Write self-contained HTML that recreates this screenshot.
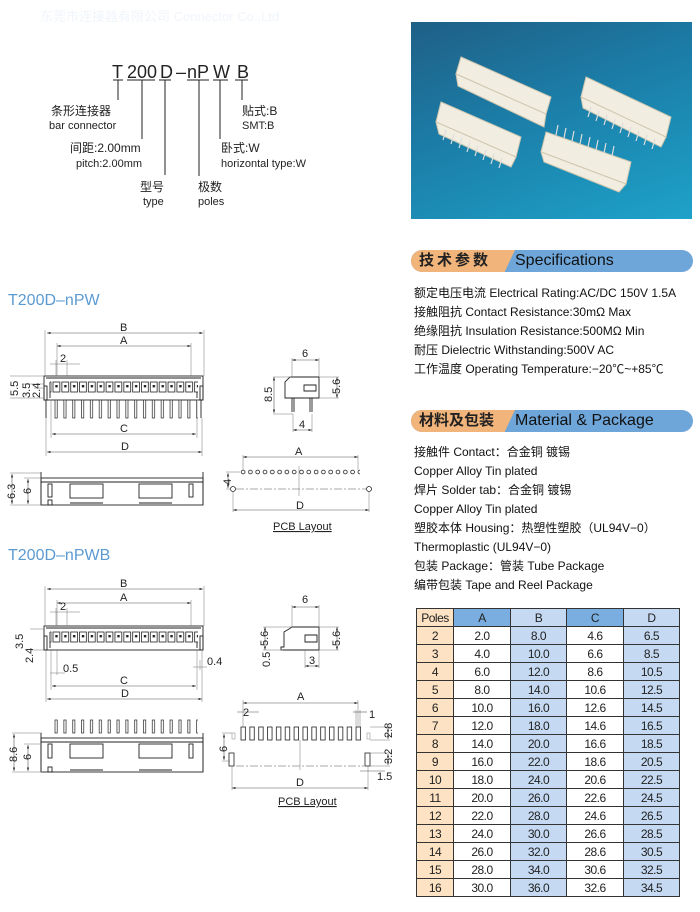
<!DOCTYPE html>
<html><head><meta charset="utf-8">
<style>
*{margin:0;padding:0;box-sizing:border-box}
body{width:700px;height:912px;background:#fff;position:relative;overflow:hidden;font-family:"Liberation Sans","Noto Sans CJK SC",sans-serif;color:#222}
.a{position:absolute;white-space:nowrap}
.hdr{position:absolute;left:411px;width:282px;height:22px;border-radius:11px;overflow:hidden;background:#6fa6d9}
.hdr .o{position:absolute;left:0;top:0;height:22px;width:104px;background:#f1b47a;clip-path:polygon(0 0,100% 0,90% 100%,0 100%)}
.hdr .cn{position:absolute;left:8px;top:0;font-size:15px;line-height:22px;font-weight:bold;color:#222}
.hdr .en{position:absolute;left:104px;top:0;font-size:16px;line-height:22px;color:#111}
.sp{position:absolute;left:414px;font-size:12px;line-height:19px;color:#111}
table{position:absolute;left:416px;top:608px;border-collapse:collapse;font-size:12px;font-family:"Liberation Sans",sans-serif;letter-spacing:-0.5px}
td{border:1px solid #333;height:18px;text-align:center;padding:0;color:#222}
td.p{background:#fde3c3;width:37px}
td.w{background:#fff;width:57px}
td.b{background:#c5daf2;width:56px}
tr.h td.b2{background:#7aaee0}
</style></head><body>
<div class="a" style="left:40px;top:6px;font-size:13px;color:#f0f5fb">东莞市连接器有限公司 Connector Co.,Ltd</div>

<div class="a" style="left:411px;top:22px;width:281px;height:197px;background:linear-gradient(160deg,#1f5f86 0%,#1b7ea8 45%,#1ea2c9 100%)"></div>
<svg class="a" style="left:411px;top:22px" width="281" height="197">
<g fill="#f1ede0" stroke="#cfc7b0" stroke-width="1">
<polygon points="50,35 140,75 135,92 45,52"/>
<polygon points="45,52 135,92 133,105 47,64"/>
<polygon points="175,55 260,95 255,115 170,75"/>
<polygon points="170,75 255,115 250,125 172,86"/>
<polygon points="30,80 110,115 105,135 25,100"/>
<polygon points="25,100 105,135 100,145 28,112"/>
<polygon points="135,110 220,140 215,162 130,130"/>
<polygon points="130,130 215,162 208,170 133,140"/>
</g>
<g stroke="#ddd" stroke-width="1.2">
<path d="M180,85 l-3,10 M188,89 l-3,10 M196,93 l-3,10 M204,97 l-3,10 M212,101 l-3,10 M220,105 l-3,10 M228,109 l-3,10 M236,113 l-3,10 M244,117 l-3,10"/>
<path d="M35,108 l-3,10 M43,112 l-3,10 M51,116 l-3,10 M59,120 l-3,10 M67,124 l-3,10 M75,128 l-3,10 M83,132 l-3,10 M91,136 l-3,10"/>
<path d="M145,113 l2,-10 M153,116 l2,-10 M161,119 l2,-10 M169,122 l2,-10 M177,125 l2,-10 M185,128 l2,-10 M193,131 l2,-10 M201,134 l2,-10"/>
</g>
</svg>

<div class="hdr" style="top:250px"><div class="o"></div><div class="cn" style="letter-spacing:3px">技术参数</div><div class="en">Specifications</div></div>
<div class="sp" style="top:284px">额定电压电流 Electrical Rating:AC/DC 150V 1.5A<br>接触阻抗 Contact Resistance:30mΩ Max<br>绝缘阻抗 Insulation Resistance:500MΩ Min<br>耐压 Dielectric Withstanding:500V AC<br>工作温度 Operating Temperature:−20℃~+85℃</div>
<div class="hdr" style="top:410px"><div class="o"></div><div class="cn">材料及包装</div><div class="en">Material &amp; Package</div></div>
<div class="sp" style="top:443px">接触件 Contact：合金铜 镀锡<br>Copper Alloy Tin plated<br>焊片 Solder tab：合金铜 镀锡<br>Copper Alloy Tin plated<br>塑胶本体 Housing：热塑性塑胶（UL94V−0）<br>Thermoplastic (UL94V−0)<br>包装 Package：管装 Tube Package<br>编带包装 Tape and Reel Package</div>

<table>
<tr class="h"><td class="p">Poles</td><td class="b b2">A</td><td class="b">B</td><td class="b b2">C</td><td class="b">D</td></tr>
<tr><td class="p">2</td><td class="w">2.0</td><td class="b">8.0</td><td class="w">4.6</td><td class="b">6.5</td></tr>
<tr><td class="p">3</td><td class="w">4.0</td><td class="b">10.0</td><td class="w">6.6</td><td class="b">8.5</td></tr>
<tr><td class="p">4</td><td class="w">6.0</td><td class="b">12.0</td><td class="w">8.6</td><td class="b">10.5</td></tr>
<tr><td class="p">5</td><td class="w">8.0</td><td class="b">14.0</td><td class="w">10.6</td><td class="b">12.5</td></tr>
<tr><td class="p">6</td><td class="w">10.0</td><td class="b">16.0</td><td class="w">12.6</td><td class="b">14.5</td></tr>
<tr><td class="p">7</td><td class="w">12.0</td><td class="b">18.0</td><td class="w">14.6</td><td class="b">16.5</td></tr>
<tr><td class="p">8</td><td class="w">14.0</td><td class="b">20.0</td><td class="w">16.6</td><td class="b">18.5</td></tr>
<tr><td class="p">9</td><td class="w">16.0</td><td class="b">22.0</td><td class="w">18.6</td><td class="b">20.5</td></tr>
<tr><td class="p">10</td><td class="w">18.0</td><td class="b">24.0</td><td class="w">20.6</td><td class="b">22.5</td></tr>
<tr><td class="p">11</td><td class="w">20.0</td><td class="b">26.0</td><td class="w">22.6</td><td class="b">24.5</td></tr>
<tr><td class="p">12</td><td class="w">22.0</td><td class="b">28.0</td><td class="w">24.6</td><td class="b">26.5</td></tr>
<tr><td class="p">13</td><td class="w">24.0</td><td class="b">30.0</td><td class="w">26.6</td><td class="b">28.5</td></tr>
<tr><td class="p">14</td><td class="w">26.0</td><td class="b">32.0</td><td class="w">28.6</td><td class="b">30.5</td></tr>
<tr><td class="p">15</td><td class="w">28.0</td><td class="b">34.0</td><td class="w">30.6</td><td class="b">32.5</td></tr>
<tr><td class="p">16</td><td class="w">30.0</td><td class="b">36.0</td><td class="w">32.6</td><td class="b">34.5</td></tr>
</table>

<svg class="a" style="left:0;top:0" width="405" height="912" font-family="Liberation Sans, Noto Sans CJK SC, sans-serif">
<defs>
<pattern id="cav" patternUnits="userSpaceOnUse" x="52" y="0" width="8.85" height="912"><rect x="1" y="382" width="6.8" height="10" fill="#fff" stroke="#222" stroke-width=".8"/><rect x="3.3" y="385" width="2.4" height="2.4" fill="#222"/></pattern>
<pattern id="cav2" patternUnits="userSpaceOnUse" x="52" y="0" width="8.85" height="912"><rect x="1" y="632" width="6.8" height="10" fill="#fff" stroke="#222" stroke-width=".8"/><rect x="3.3" y="635" width="2.4" height="2.4" fill="#222"/></pattern>
<pattern id="pin" patternUnits="userSpaceOnUse" x="52" y="0" width="8.85" height="912"><rect x="3" y="400" width="2.2" height="18" fill="#fff" stroke="#222" stroke-width=".7"/></pattern>
<pattern id="pin2" patternUnits="userSpaceOnUse" x="52" y="0" width="8.85" height="912"><rect x="3" y="720" width="2.2" height="13" fill="#fff" stroke="#222" stroke-width=".7"/></pattern>
<pattern id="hole" patternUnits="userSpaceOnUse" x="239.5" y="0" width="7.3" height="912"><circle cx="3.6" cy="472" r="1.9" fill="#fff" stroke="#222" stroke-width=".8"/></pattern>
<pattern id="pad" patternUnits="userSpaceOnUse" x="239.5" y="0" width="8.85" height="912"><rect x="1.5" y="727" width="4.5" height="13" fill="#fff" stroke="#222" stroke-width=".8"/></pattern>
<marker id="ar" markerWidth="6" markerHeight="4" refX="6" refY="2" orient="auto-start-reverse"><path d="M0,0 L6,2 L0,4z" fill="#333"/></marker>
</defs>

<g font-size="18" fill="#222">
<text x="112" y="78">T</text><text x="127" y="78">200</text><text x="160" y="78">D</text><text x="176" y="78">–</text><text x="187" y="78">nP</text><text x="213" y="78">W</text><text x="237" y="78">B</text>
</g>
<g stroke="#222" stroke-width="1" fill="none">
<path d="M113,80h10 M127,80h28 M159,80h12 M187,80h22 M213,80h15 M235,80h13"/>
<path d="M118,80v20 M142,80v59 M165,80v95 M199,80v96 M220,80v59 M242,80v20"/>
</g>
<g font-size="12" fill="#222">
<text x="51" y="115">条形连接器</text><text x="49" y="129" font-size="11">bar connector</text>
<text x="70" y="152">间距:2.00mm</text><text x="76" y="167" font-size="11">pitch:2.00mm</text>
<text x="140" y="191">型号</text><text x="143" y="205" font-size="11">type</text>
<text x="198" y="191">极数</text><text x="198" y="205" font-size="11">poles</text>
<text x="221" y="152">卧式:W</text><text x="221" y="167" font-size="11">horizontal type:W</text>
<text x="242" y="115">贴式:B</text><text x="242" y="129" font-size="11">SMT:B</text>
</g>

<g font-size="16" fill="#5b9bd2"><text x="8" y="305">T200D–nPW</text><text x="8" y="560">T200D–nPWB</text></g>

<g stroke="#222" fill="none" stroke-width=".9">
<rect x="44" y="376" width="159" height="24" fill="#fff"/>
<path d="M46,378h155 M50,382v16 M197,382v16"/>
<rect x="44" y="386" width="3" height="14"/><rect x="200" y="386" width="3" height="14"/>
<path d="M46,400v18 M201,400v18"/>
</g>
<rect x="50" y="380" width="148" height="20" fill="url(#cav)"/>
<rect x="50" y="400" width="148" height="20" fill="url(#pin)"/>
<g stroke="#555" stroke-width=".6" fill="none" marker-start="url(#ar)" marker-end="url(#ar)">
<path d="M47,333H203"/><path d="M57,346H191"/><path d="M52,434H196"/><path d="M47,452H202"/>
</g>
<g stroke="#777" stroke-width=".5" fill="none">
<path d="M45,330v46 M204,330v46 M57,343v33 M191,343v33 M51,400v38 M197,400v38 M46,418v38 M202,418v38 M50,364h30 M56,360v16 M67,360v16 M10,376h34 M22,384h22 M34,388h10 M10,398h34"/>
</g>
<g font-size="11" fill="#222">
<text x="120" y="331">B</text><text x="120" y="344">A</text><text x="60" y="362">2</text><text x="120" y="432">C</text><text x="121" y="450">D</text>
<text transform="translate(18,396) rotate(-90)">5.5</text><text transform="translate(30,398) rotate(-90)">3.5</text><text transform="translate(40,398) rotate(-90)">2.4</text>
</g>
<g stroke="#222" fill="#fff" stroke-width=".9">
<path d="M290,377h29v21h-34v-16l5,-5z"/><path d="M304,385h12v6h-12z"/>
<path d="M292,398v14 M294,398v14 M310,398v14 M312,398v14" fill="none"/>
</g>
<g stroke="#777" stroke-width=".5" fill="none"><path d="M292,358v19 M319,358v19 M273,377h18 M273,414h20 M319,377h20 M319,398h20 M293,414v18 M312,414v18"/></g>
<g stroke="#555" stroke-width=".6" marker-start="url(#ar)" marker-end="url(#ar)"><path d="M292,360H319"/><path d="M274,377V413"/><path d="M337,377V398"/><path d="M293,430H312"/></g>
<g font-size="11" fill="#222"><text x="302" y="357">6</text><text transform="translate(272,402) rotate(-90)">8.5</text><text transform="translate(340,394) rotate(-90)">5.6</text><text x="299" y="428">4</text></g>
<g stroke="#222" fill="none" stroke-width=".9">
<rect x="41" y="478" width="162" height="27" fill="#fff"/><path d="M41,472v33 M203,472v33 M41,482h162"/>
<rect x="48" y="484" width="4" height="13"/><rect x="189" y="484" width="4" height="13"/>
<rect x="70" y="484" width="33" height="14"/><rect x="139" y="484" width="33" height="14"/>
<path d="M70,503h33 M139,503h33"/><rect x="48" y="500" width="4" height="5"/>
</g>
<g stroke="#777" stroke-width=".5" fill="none"><path d="M10,473h31 M24,478h17 M10,505h31"/></g>
<g stroke="#555" stroke-width=".6" marker-start="url(#ar)" marker-end="url(#ar)"><path d="M12,474V504"/><path d="M28,479V504"/></g>
<g font-size="11" fill="#222"><text transform="translate(15,499) rotate(-90)">6.3</text><text transform="translate(31,494) rotate(-90)">6</text></g>
<rect x="238" y="468" width="122" height="8" fill="url(#hole)"/>
<circle cx="233" cy="489" r="2.5" fill="#fff" stroke="#222" stroke-width=".8"/><circle cx="369" cy="489" r="2.5" fill="#fff" stroke="#222" stroke-width=".8"/>
<path d="M236,489H366" stroke="#555" stroke-width=".5" stroke-dasharray="8,2,2,2"/>
<g stroke="#777" stroke-width=".5" fill="none"><path d="M243,455v15 M358,455v15 M233,492v20 M369,492v20 M226,472h14 M226,489h5 M299,466v30"/></g>
<g stroke="#555" stroke-width=".6" marker-start="url(#ar)" marker-end="url(#ar)"><path d="M243,457H358"/><path d="M233,510H369"/><path d="M228,473V488"/></g>
<g font-size="11" fill="#222"><text x="295" y="455">A</text><text x="296" y="509">D</text><text transform="translate(231,485) rotate(-90)">4</text><text x="273" y="530" text-decoration="underline">PCB Layout</text></g>

<g stroke="#222" fill="none" stroke-width=".9">
<rect x="44" y="626" width="159" height="24" fill="#fff"/>
<path d="M46,628h155 M50,632v16 M197,632v16"/>
<rect x="44" y="636" width="3" height="14"/><rect x="200" y="636" width="3" height="14"/>
</g>
<rect x="50" y="630" width="148" height="20" fill="url(#cav2)"/>
<g stroke="#555" stroke-width=".6" fill="none" marker-start="url(#ar)" marker-end="url(#ar)">
<path d="M47,589H203"/><path d="M57,603H191"/><path d="M52,686H196"/><path d="M47,699H202"/>
</g>
<g stroke="#777" stroke-width=".5" fill="none">
<path d="M45,586v40 M204,586v40 M57,600v26 M191,600v26 M51,650v40 M197,650v40 M46,650v52 M202,650v52 M50,612h30 M56,608v18 M67,608v18 M30,629h14 M30,650h14 M50,673h15 M57,650v25 M193,667h14 M200,660v10"/>
</g>
<g font-size="11" fill="#222">
<text x="120" y="587">B</text><text x="120" y="601">A</text><text x="60" y="610">2</text><text x="120" y="684">C</text><text x="121" y="697">D</text>
<text x="63" y="672">0.5</text><text x="207" y="665">0.4</text>
<text transform="translate(23,649) rotate(-90)">3.5</text><text transform="translate(33,663) rotate(-90)">2.4</text>
</g>
<g stroke="#222" fill="#fff" stroke-width=".9"><path d="M292,627h27v23h-38v-3h3v-15l5,-3z"/><path d="M305,635h12v7h-12z"/></g>
<g stroke="#777" stroke-width=".5" fill="none"><path d="M292,605v22 M319,605v22 M263,627h29 M263,650h20 M319,627h20 M319,650h20 M305,650v18 M319,650v18"/></g>
<g stroke="#555" stroke-width=".6" marker-start="url(#ar)" marker-end="url(#ar)"><path d="M292,607H319"/><path d="M265,627V650"/><path d="M337,627V650"/><path d="M305,666H319"/></g>
<g font-size="11" fill="#222"><text x="302" y="603">6</text><text transform="translate(268,646) rotate(-90)">5.6</text><text transform="translate(340,646) rotate(-90)">5.6</text><text transform="translate(270,667) rotate(-90)">0.5</text><text x="309" y="664">3</text></g>
<rect x="50" y="718" width="148" height="16" fill="url(#pin2)"/>
<g stroke="#222" fill="none" stroke-width=".9">
<rect x="41" y="738" width="162" height="34" fill="#fff"/><path d="M41,733v39 M203,733v39 M41,742h162"/>
<rect x="48" y="744" width="4" height="14"/><rect x="189" y="744" width="4" height="14"/>
<rect x="70" y="744" width="33" height="14"/><rect x="139" y="744" width="33" height="14"/>
<path d="M70,770h33 M139,770h33"/><rect x="48" y="767" width="4" height="5"/>
</g>
<g stroke="#777" stroke-width=".5" fill="none"><path d="M12,733h30 M24,744h17 M12,772h30"/></g>
<g stroke="#555" stroke-width=".6" marker-start="url(#ar)" marker-end="url(#ar)"><path d="M14,734V771"/><path d="M28,745V771"/></g>
<g font-size="11" fill="#222"><text transform="translate(17,762) rotate(-90)">8.6</text><text transform="translate(31,760) rotate(-90)">6</text></g>
<rect x="238" y="725" width="124" height="17" fill="url(#pad)"/>
<rect x="229" y="753" width="5" height="13" fill="#fff" stroke="#222" stroke-width=".8"/><rect x="365" y="753" width="5" height="13" fill="#fff" stroke="#222" stroke-width=".8"/>
<rect x="232" y="733" width="3" height="6" fill="none" stroke="#999" stroke-width=".6"/><rect x="367" y="733" width="3" height="6" fill="none" stroke="#999" stroke-width=".6"/>
<path d="M236,766H364" stroke="#555" stroke-width=".5" stroke-dasharray="8,2,2,2"/>
<g stroke="#777" stroke-width=".5" fill="none"><path d="M243,700v27 M358,700v27 M232,766v24 M368,766v24 M222,733h10 M222,761h8 M370,727h20 M370,740h20 M370,753h20 M370,766h20 M356,710v17 M360,710v17 M300,740v30"/></g>
<g stroke="#555" stroke-width=".6" marker-start="url(#ar)" marker-end="url(#ar)"><path d="M243,703H358"/><path d="M232,788H368"/><path d="M224,734V760"/><path d="M388,728V739"/><path d="M388,754V765"/></g>
<path d="M237,712h22" stroke="#555" stroke-width=".6"/><path d="M353,712h14" stroke="#555" stroke-width=".6"/><path d="M360,771h25" stroke="#555" stroke-width=".6"/>
<g font-size="11" fill="#222"><text x="297" y="700">A</text><text x="243" y="716">2</text><text x="369" y="718">1</text><text x="296" y="786">D</text><text transform="translate(227,752) rotate(-90)">6</text><text transform="translate(392,738) rotate(-90)">2.8</text><text transform="translate(392,764) rotate(-90)">3.2</text><text x="377" y="780">1.5</text><text x="278" y="805" text-decoration="underline">PCB Layout</text></g>
</svg>
</body></html>
